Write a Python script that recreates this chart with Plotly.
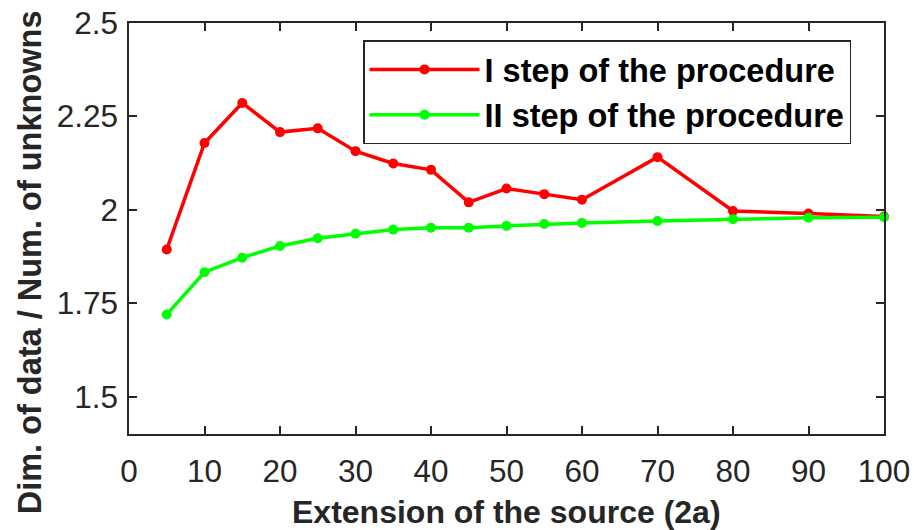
import plotly.graph_objects as go

x_vals = [5, 10, 15, 20, 25, 30, 35, 40, 45, 50, 55, 60, 70, 80, 90, 100]
step1 = [1.894, 2.179, 2.286, 2.208, 2.218, 2.157, 2.124, 2.107, 2.020, 2.057, 2.042, 2.027, 2.141, 1.997, 1.990, 1.982]
step2 = [1.720, 1.833, 1.872, 1.903, 1.924, 1.936, 1.947, 1.952, 1.952, 1.957, 1.962, 1.965, 1.970, 1.975, 1.979, 1.980]
x_ticks = [0, 10, 20, 30, 40, 50, 60, 70, 80, 90, 100]
y_ticks = [1.5, 1.75, 2, 2.25, 2.5]
y_tick_labels = ["1.5", "1.75", "2", "2.25", "2.5"]
x_title = "Extension of the source (2a)"
y_title = "Dim. of data / Num. of unknowns"

FONT = "Liberation Sans, Arial, sans-serif"
AX = "#262626"

W, H = 914, 530
ML, MR, MT, MB = 129, 30, 23, 96
PH = H - MT - MB

fig = go.Figure()
fig.add_trace(go.Scatter(x=x_vals, y=step1, mode="lines+markers", name="I step of the procedure",
                         line=dict(color="#FF0000", width=3.5), marker=dict(color="#FF0000", size=10),
                         legendgroup="a", cliponaxis=False))
fig.add_trace(go.Scatter(x=x_vals, y=step2, mode="lines+markers", name="II step of the procedure",
                         line=dict(color="#00FF00", width=3.5), marker=dict(color="#00FF00", size=10),
                         legendgroup="b", cliponaxis=False))

fig.update_layout(
    width=W, height=H,
    margin=dict(l=ML, r=MR, t=MT, b=MB, autoexpand=False),
    paper_bgcolor="white", plot_bgcolor="white",
    showlegend=True,
    legend=dict(x=0.31, y=0.958, xanchor="left", yanchor="top",
                bordercolor=AX, borderwidth=1.5, bgcolor="white",
                font=dict(family=FONT, size=32.5, color="black", weight="bold"),
                itemwidth=110, traceorder="grouped", tracegroupgap=0),
    xaxis=dict(range=[0, 100], tickvals=x_ticks, ticks="inside", ticklen=8, tickwidth=1.5,
               tickcolor=AX, showline=True, linecolor=AX, linewidth=1.5, mirror="ticks",
               showgrid=False, zeroline=False, ticklabelstandoff=8, automargin=False,
               tickfont=dict(family=FONT, size=31.5, color=AX)),
    yaxis=dict(range=[1.4, 2.5], tickvals=y_ticks, ticktext=y_tick_labels, ticks="inside", ticklen=8,
               tickwidth=1.5, tickcolor=AX, showline=True, linecolor=AX, linewidth=1.5, mirror="ticks",
               showgrid=False, zeroline=False, ticklabelstandoff=3, automargin=False,
               tickfont=dict(family=FONT, size=31.5, color=AX)),
    annotations=[
        dict(text=x_title, xref="paper", yref="paper", x=0.5, y=(433.7 - 512) / PH,
             xanchor="center", yanchor="middle", showarrow=False,
             font=dict(family=FONT, size=32, color=AX, weight="bold")),
        dict(text=y_title, xref="paper", yref="paper", x=(29.5 - ML) / (W - ML - MR),
             y=(433.7 - 262.5) / PH, xanchor="center", yanchor="middle", textangle=-90,
             showarrow=False, font=dict(family=FONT, size=32.5, color=AX, weight="bold")),
    ],
)

fig.write_html("out.html", config={"displayModeBar": False},
               post_script="document.body.style.margin='0';")
